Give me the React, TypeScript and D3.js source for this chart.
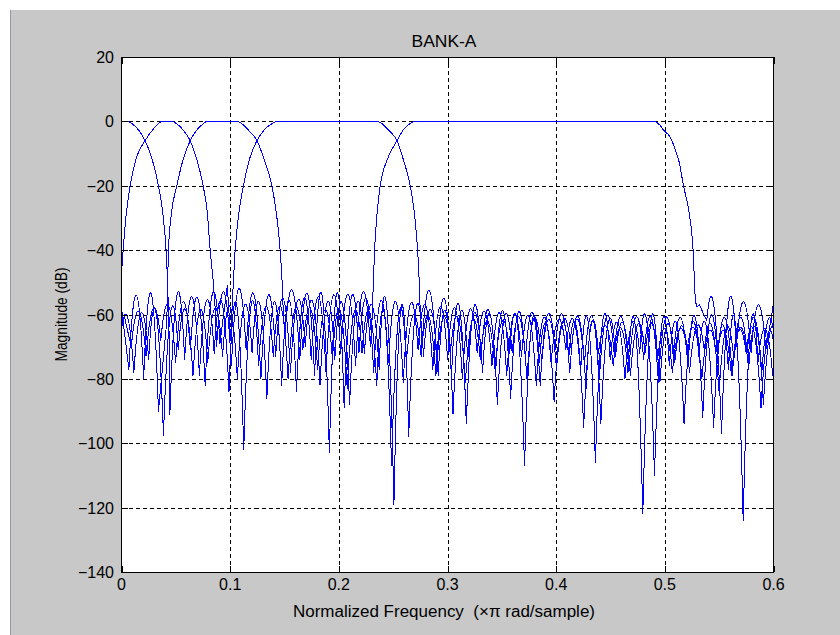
import React from 'react';
import * as d3 from 'd3';

// ---------- axis data ----------
const xTicks = [0, 0.1, 0.2, 0.3, 0.4, 0.5, 0.6];
const xTickLabels = ['0', '0.1', '0.2', '0.3', '0.4', '0.5', '0.6'];
const yTicks = [20, 0, -20, -40, -60, -80, -100, -120, -140];
const yTickLabels = ['20', '0', '\u221220', '\u221240', '\u221260', '\u221280', '\u2212100', '\u2212120', '\u2212140'];
const xGrid = [0.1, 0.2, 0.3, 0.4, 0.5];
const yGrid = [0, -20, -40, -60, -80, -100, -120];

// spacing of the stopband samples (null / peak alternating), in ×π rad/sample
const LOBE_HALF_STEP = 0.0068;

// ---------- filter A (lowest band) ----------
const aCore: [number, number][] = [
  [0, 0], [0.005, 0], [0.010, -0.8], [0.016, -2.8], [0.0217, -6], [0.028, -11.5],
  [0.034, -20], [0.038, -28.5], [0.041, -40], [0.0425, -51], [0.0438, -66],
];
const aUpperStart = 0.0445;
const aUpperDb = [
  -91, -53.5, -74, -54.5, -79, -55.5, -72, -56, -84, -56.5, -102, -57, -76, -57.5, -73, -57.5,
  -80, -58, -71, -58, -77, -58.5, -74, -58.5, -83, -59, -72, -59, -82, -59.5, -107, -60,
  -75, -60, -73, -60.5, -79, -61, -71, -61, -81, -61.5, -74, -62, -77, -62, -72, -62.5,
  -107, -62.5, -75, -63, -87, -63, -73, -63.5, -95, -63.5, -72, -63.5, -76, -64, -78, -64,
  -122, -64, -74, -64.5, -78, -64.5, -71, -64.5, -80, -65, -74, -65, -79, -65, -72, -65,
  -89, -65.5, -75,
];

// ---------- filter B ----------
const bCore: [number, number][] = [
  [0, -47], [0.0015, -40], [0.004, -30], [0.0079, -20], [0.014, -11], [0.0217, -6],
  [0.029, -2.5], [0.034, -0.7], [0.0371, 0], [0.0463, 0], [0.051, -0.8], [0.057, -2.8],
  [0.0632, -6], [0.069, -11.5], [0.0751, -20], [0.079, -28.5], [0.0816, -40], [0.0845, -50],
  [0.0862, -58],
];
const bUpperStart = 0.0875;
const bUpperDb = [
  -70, -53, -76, -52, -71, -53.5, -80, -54, -73, -55, -78, -55.5, -70, -56, -82, -56,
  -74, -56.5, -88, -56.5, -72, -57, -77, -57, -119, -57.5, -98, -58, -73, -58.5, -79, -59,
  -91, -59.5, -74, -59.5, -78, -60, -88, -60.5, -72, -61, -80, -61, -75, -61.5, -77, -61.5,
  -71, -62, -83, -62, -94, -62.5, -73, -62.5, -79, -63, -72, -63, -81, -63, -75, -63.5,
  -78, -63.5, -71, -63.5, -84, -64, -74, -64, -77, -64, -88, -64.5, -73,
];

// ---------- filter C ----------
const cLowerStart = 0;
const cLowerDb = [-58, -77, -54, -80, -53.5, -90];
const cCore: [number, number][] = [
  [0.0417, -62], [0.0425, -50], [0.0432, -40], [0.046, -28.5], [0.0509, -20], [0.057, -11.5],
  [0.0632, -6], [0.069, -2.8], [0.075, -0.8], [0.0785, 0], [0.1062, 0], [0.111, -0.8],
  [0.117, -2.8], [0.1246, -6], [0.131, -11.5], [0.1384, -20], [0.1425, -28.5], [0.146, -40],
  [0.1478, -50], [0.149, -60],
];
const cUpperStart = 0.1505;
const cUpperDb = [
  -66, -52.5, -74, -53.4, -79, -54, -103, -53.5, -89, -54.5, -72, -55, -78, -55.6, -75, -56,
  -81, -56.5, -71, -57, -77, -57.5, -74, -58, -80, -58.5, -72, -59, -76, -59.5, -79, -60,
  -73, -60.5, -82, -61, -75, -61.5, -71, -61.5, -78, -62, -106, -62, -74, -62.5, -80, -62.5,
  -72, -63, -110, -63, -76, -63, -94, -63.5, -73, -63.5, -95, -64, -77, -64, -124, -64,
  -75, -64.5, -79, -64.5,
];

// ---------- filter D ----------
const dLowerStart = 0.0022;
const dLowerDb = [-60, -70, -59, -73, -58, -68, -57, -75, -56, -71, -55, -82, -53.5, -69, -51];
const dCore: [number, number][] = [
  [0.1005, -68], [0.1022, -55], [0.1046, -40], [0.108, -28.5], [0.1122, -20], [0.118, -11.5],
  [0.1246, -6], [0.131, -2.8], [0.138, -0.8], [0.143, 0], [0.2351, 0], [0.240, -0.8],
  [0.246, -2.8], [0.2535, -6], [0.259, -11.5], [0.2657, -20], [0.2695, -28.5], [0.2725, -40],
  [0.274, -50], [0.275, -60],
];
const dUpperStart = 0.2765;
const dUpperDb = [
  -70, -52.5, -75, -55, -79, -57, -94, -58, -73, -58.5, -77, -59, -86, -59.5, -74, -59.5,
  -82, -60, -71, -60, -78, -60.5, -75, -60.5, -80, -60.5, -72, -60.7, -77, -60.7, -74, -60.7,
  -81, -61, -73, -61, -76, -61, -92, -61, -74, -61, -79, -61, -72, -61, -78, -61,
  -75,
];

// ---------- filter E (widest band) ----------
const eLowerStart = -0.0022;
const eLowerDb = [
  -72, -60, -78, -59.5, -74, -59.5, -97.5, -59, -71, -58.5, -79, -58.5, -75, -58, -73, -57.5,
  -80, -57, -72, -56.5, -86, -56, -82, -55.5, -84, -55, -74, -54.5, -78, -54, -72, -53.7,
  -76, -53, -70,
];
const eCore: [number, number][] = [
  [0.2305, -62], [0.2318, -50], [0.2329, -40], [0.2352, -28.5], [0.2381, -20], [0.245, -11.5],
  [0.2535, -6], [0.259, -2.8], [0.265, -0.8], [0.2703, 0], [0.4898, 0], [0.495, -1],
  [0.499, -2.8], [0.505, -4.9], [0.5098, -9], [0.5128, -12.1], [0.5174, -20.4], [0.522, -27.6],
  [0.526, -40], [0.5282, -55.6], [0.5297, -57.7],
];
const eUpperStart = 0.5318;
const eUpperDb = [-57, -62, -58, -97, -56, -70, -56, -72, -57, -71, -57];

// ---------- layout ----------
const W = 840;
const H = 635;
const PLOT_L = 121.5;
const PLOT_R = 773.5;
const PLOT_T = 57;
const PLOT_B = 572;
const FONT = "'Liberation Sans', Arial, Helvetica, sans-serif";

type Pt = [number, number];

function stopband(start: number, values: number[]): Pt[] {
  return values.map((v, i) => [start + i * LOBE_HALF_STEP, v] as Pt);
}

type Filter = { lower: Pt[]; core: Pt[]; upper: Pt[] };

const bank: Filter[] = [
  { lower: [], core: aCore, upper: stopband(aUpperStart, aUpperDb) },
  { lower: [], core: bCore, upper: stopband(bUpperStart, bUpperDb) },
  { lower: stopband(cLowerStart, cLowerDb), core: cCore, upper: stopband(cUpperStart, cUpperDb) },
  { lower: stopband(dLowerStart, dLowerDb), core: dCore, upper: stopband(dUpperStart, dUpperDb) },
  { lower: stopband(eLowerStart, eLowerDb), core: eCore, upper: stopband(eUpperStart, eUpperDb) },
];

// Sidelobes: rounded arches over each peak sample, sharp cusps at the nulls.
function lobes(ctx: d3.Path, pts: Pt[], x: (v: number) => number, y: (v: number) => number, start: boolean) {
  if (!pts.length) return;
  const px = pts.map((p) => [x(p[0]), y(p[1])]);
  if (start) ctx.moveTo(px[0][0], px[0][1]);
  else ctx.lineTo(px[0][0], px[0][1]);
  let i = 0;
  while (i < px.length - 1) {
    const a = px[i];
    const b = px[i + 1];
    if (i + 2 < px.length && b[1] < a[1] && b[1] < px[i + 2][1]) {
      const c = px[i + 2];
      const cy = 2 * b[1] - (a[1] + c[1]) / 2;
      ctx.quadraticCurveTo(b[0], cy, c[0], c[1]);
      i += 2;
    } else {
      ctx.lineTo(b[0], b[1]);
      i += 1;
    }
  }
}

export default function App() {
  const x = d3.scaleLinear().domain([0, 0.6]).range([PLOT_L, PLOT_R]);
  const y = d3.scaleLinear().domain([-140, 20]).range([PLOT_B, PLOT_T]);
  const coreLine = d3
    .line<Pt>()
    .x((d) => x(d[0]))
    .y((d) => y(d[1]))
    .curve(d3.curveMonotoneX);

  const paths = bank.map((f) => {
    const lowerCtx = d3.path();
    lobes(lowerCtx, f.lower, x, y, true);
    const upperCtx = d3.path();
    lobes(upperCtx, f.upper, x, y, false);
    let core = coreLine(f.core) || '';
    if (f.lower.length) core = 'L' + core.slice(1);
    return lowerCtx.toString() + core + upperCtx.toString();
  });

  const tickLen = 6.5;
  const midX = 444;

  return (
    <svg
      width={W}
      height={H}
      viewBox={`0 0 ${W} ${H}`}
      style={{ position: 'absolute', left: 0, top: 0, display: 'block' }}
    >
      <rect x={0} y={0} width={W} height={H} fill="#ffffff" />
      <rect x={11} y={10} width={W - 11} height={H - 10} fill="#c8c8c8" />
      <line x1={10.5} y1={10} x2={10.5} y2={H} stroke="#9a9aa4" strokeWidth={1} />

      <defs>
        <clipPath id="plotClip">
          <rect x={PLOT_L} y={PLOT_T} width={PLOT_R - PLOT_L} height={PLOT_B - PLOT_T} />
        </clipPath>
      </defs>

      <rect x={PLOT_L} y={PLOT_T} width={PLOT_R - PLOT_L} height={PLOT_B - PLOT_T} fill="#ffffff" />

      <g stroke="#000" strokeWidth={1} strokeDasharray="4 3" shapeRendering="crispEdges">
        {xGrid.map((t) => (
          <line key={'gx' + t} x1={Math.round(x(t)) + 0.5} x2={Math.round(x(t)) + 0.5} y1={PLOT_T} y2={PLOT_B} />
        ))}
        {yGrid.map((t) => (
          <line key={'gy' + t} x1={PLOT_L} x2={PLOT_R} y1={Math.round(y(t)) + 0.5} y2={Math.round(y(t)) + 0.5} />
        ))}
      </g>

      <g clipPath="url(#plotClip)">
        {paths.map((d, i) => (
          <path
            key={i}
            d={d}
            fill="none"
            stroke="#0000ff"
            strokeWidth={1}
            strokeLinejoin="round"
            shapeRendering="crispEdges"
          />
        ))}
      </g>

      <g stroke="#000" strokeWidth={1} shapeRendering="crispEdges">
        <rect x={PLOT_L} y={PLOT_T} width={PLOT_R - PLOT_L} height={PLOT_B - PLOT_T} fill="none" />
        {xTicks.map((t) => (
          <g key={'tx' + t}>
            <line x1={Math.round(x(t)) + 0.5} x2={Math.round(x(t)) + 0.5} y1={PLOT_B} y2={PLOT_B - tickLen} />
            <line x1={Math.round(x(t)) + 0.5} x2={Math.round(x(t)) + 0.5} y1={PLOT_T} y2={PLOT_T + tickLen} />
          </g>
        ))}
        {yTicks.map((t) => (
          <g key={'ty' + t}>
            <line x1={PLOT_L} x2={PLOT_L + tickLen} y1={Math.round(y(t)) + 0.5} y2={Math.round(y(t)) + 0.5} />
            <line x1={PLOT_R} x2={PLOT_R - tickLen} y1={Math.round(y(t)) + 0.5} y2={Math.round(y(t)) + 0.5} />
          </g>
        ))}
      </g>

      <g fontFamily={FONT} fontSize={16} fill="#000">
        {xTicks.map((t, i) => (
          <text key={'lx' + t} x={x(t)} y={590} textAnchor="middle">
            {xTickLabels[i]}
          </text>
        ))}
        {yTicks.map((t, i) => (
          <text key={'ly' + t} x={114} y={y(t) + 6} textAnchor="end">
            {yTickLabels[i]}
          </text>
        ))}
      </g>

      <text x={midX} y={47} textAnchor="middle" fontFamily={FONT} fontSize={16.5} textLength={65} lengthAdjust="spacingAndGlyphs">
        BANK-A
      </text>
      <text
        x={midX}
        y={616.5}
        textAnchor="middle"
        fontFamily={FONT}
        fontSize={16}
        textLength={302}
        lengthAdjust="spacingAndGlyphs"
        style={{ whiteSpace: 'pre' }}
      >
        {'Normalized Frequency  (\u00d7\u03c0 rad/sample)'}
      </text>
      <text
        transform={`translate(66.5, ${(PLOT_T + PLOT_B) / 2}) rotate(-90)`}
        textAnchor="middle"
        fontFamily={FONT}
        fontSize={16}
        textLength={94}
        lengthAdjust="spacingAndGlyphs"
      >
        Magnitude (dB)
      </text>
    </svg>
  );
}
